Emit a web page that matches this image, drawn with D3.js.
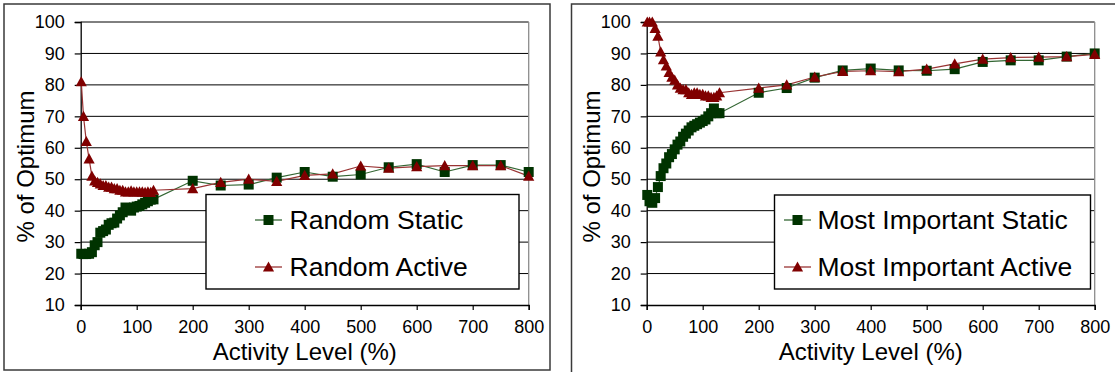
<!DOCTYPE html>
<html><head><meta charset="utf-8">
<script src="https://cdn.jsdelivr.net/npm/d3@7"></script>
<style>html,body{margin:0;padding:0;background:#fff;}svg{display:block;}</style>
</head><body>
<svg id="c" width="1115" height="372"></svg>
<script>
const activityLevels = [1,5,10,15,20,25,30,35,40,45,50,55,60,65,70,75,80,85,90,95,100,105,110,115,120,125,130,200,250,300,350,400,450,500,550,600,650,700,750,800];
const randomStatic = [26.3,26.2,26.2,26.3,26.8,29,30,33,33.5,34,35.5,36,36.2,37.5,38.5,39.5,41,40.5,40,41,41.3,41.5,42,42.5,43,43.5,43.6,49.5,48,48.3,50.5,52.3,50.8,51.5,53.8,54.8,52.3,54.5,54.5,52.3];
const randomActive = [81,70,62,56.5,51,49.5,49,48.5,48,48,47.5,47.5,47,47,46.5,46.5,46,46,46.3,46,46,46,46,45.8,46,45.8,46.5,47,49,50,49.3,51.2,51.7,54.2,53.5,54,54.3,54.3,54.3,51];
const mostImportantStatic = [45,43,42.5,44,47.5,51,53.5,55,57,58,59.5,61,62,63.5,64.5,65.5,66.5,67,67.5,68,68.5,69,70,71,72.5,71,71,77.5,79,82.3,84.6,85.2,84.6,84.5,85,87.3,87.8,87.8,89,90];
const mostImportantActive = [100,100,100,98,95.5,90.5,88,86,84,82.5,81.5,80,79,78.5,78.5,77.5,77,77.5,77.5,77,77,76.5,76.5,76,76,76.5,77.5,79,80,82.5,84.3,84.5,84.2,85,86.7,88.2,88.7,88.8,89,89.7];
const xTickValues = [0,100,200,300,400,500,600,700,800];
const yTickValues = [10,20,30,40,50,60,70,80,90,100];
const xAxisTitle = "Activity Level (%)";
const yAxisTitle = "% of Optimum";
const panelSeriesNames = [["Random Static","Random Active"],["Most Important Static","Most Important Active"]];
const panelSeriesValues = [[randomStatic, randomActive],[mostImportantStatic, mostImportantActive]];

const FONT = "'Liberation Sans', Arial, Helvetica, sans-serif";
const GREEN_LINE = "#336633", GREEN_MARK = "#003300";
const RED_LINE = "#993333", RED_MARK = "#800000";

const svg = d3.select("#c");

const panels = [
  {off:0, box:[4,4,546,366], legend:{x:206,y:194.5,w:313,h:94.5, lineX:[255,282], textX:289.5}},
  {off:566, box:[571.5,4,560,380], legend:{x:774.5,y:195,w:316,h:94, lineX:[784,811], textX:817.5}}
];

function triPath(){ return "M0,-5.6L5.6,4.6L-5.6,4.6Z"; }
function sqPath(){ return "M-5,-5H5V5H-5Z"; }

panels.forEach((p, pi) => {
  const g = svg.append("g");
  g.append("rect").attr("x",p.box[0]).attr("y",p.box[1]).attr("width",p.box[2]).attr("height",p.box[3])
    .attr("fill","none").attr("stroke","#3a3a3a").attr("stroke-width",1.5);

  const x = d3.scaleLinear().domain([0,800]).range([80.7+p.off, 528.7+p.off]);
  const y = d3.scaleLinear().domain([10,100]).range([305,22]);

  g.append("g").selectAll("line").data(yTickValues.filter(v=>v>10)).join("line")
    .attr("x1",x(0)).attr("x2",x(800)).attr("y1",d=>y(d)).attr("y2",d=>y(d))
    .attr("stroke","#000").attr("stroke-width",1);
  g.append("line").attr("x1",x(800)).attr("x2",x(800)).attr("y1",y(100)).attr("y2",y(10))
    .attr("stroke","#8c8c8c").attr("stroke-width",1.3);

  const yAxis = d3.axisLeft(y).tickValues(yTickValues).tickSize(6).tickPadding(10);
  const ya = g.append("g").attr("transform",`translate(${x(0)},0)`).call(yAxis);
  const xAxis = d3.axisBottom(x).tickValues(xTickValues).tickSize(5).tickPadding(10);
  const xa = g.append("g").attr("transform",`translate(0,${y(10)})`).call(xAxis);
  [ya,xa].forEach(a=>{
    a.select(".domain").attr("stroke","#000").attr("stroke-width",1.3);
    a.selectAll(".tick line").attr("stroke","#000").attr("stroke-width",1.2);
    a.selectAll(".tick text").attr("fill","#000").style("font-family",FONT).style("font-size","18px");
  });
  xa.selectAll(".tick text").attr("dy","0.71em").attr("y",15);

  g.append("text").attr("x",(x(0)+x(800))/2).attr("y",359.5).attr("text-anchor","middle")
    .style("font-family",FONT).style("font-size","24px").attr("fill","#000").text(xAxisTitle);
  g.append("text").attr("transform",`translate(${x(0)-46.5},166.5) rotate(-90)`).attr("text-anchor","middle")
    .style("font-family",FONT).style("font-size","24px").attr("fill","#000").text(yAxisTitle);

  const line = d3.line().x((d,i)=>x(activityLevels[i])).y(d=>y(d));
  const [sVals, aVals] = panelSeriesValues[pi];
  const series = [
    {vals:sVals, lc:GREEN_LINE, mc:GREEN_MARK, shape:sqPath},
    {vals:aVals, lc:RED_LINE, mc:RED_MARK, shape:triPath}
  ];
  series.forEach(s=>{
    g.append("path").attr("d",line(s.vals)).attr("fill","none").attr("stroke",s.lc).attr("stroke-width",1.2);
  });
  series.forEach(s=>{
    g.append("g").selectAll("path").data(s.vals).join("path")
      .attr("transform",(d,i)=>`translate(${x(activityLevels[i])},${y(d)})`)
      .attr("d",s.shape()).attr("fill",s.mc);
  });

  const L = p.legend;
  const lg = g.append("g");
  lg.append("rect").attr("x",L.x).attr("y",L.y).attr("width",L.w).attr("height",L.h)
    .attr("fill","#fff").attr("stroke","#000").attr("stroke-width",1.4);
  const rows = [220, 267];
  series.forEach((s,k)=>{
    lg.append("line").attr("x1",L.lineX[0]).attr("x2",L.lineX[1]).attr("y1",rows[k]).attr("y2",rows[k])
      .attr("stroke",s.lc).attr("stroke-width",1.3);
    lg.append("path").attr("transform",`translate(${(L.lineX[0]+L.lineX[1])/2},${rows[k]})`).attr("d",s.shape()).attr("fill",s.mc);
    lg.append("text").attr("x",L.textX).attr("y",rows[k]+9.3)
      .style("font-family",FONT).style("font-size","26.5px").attr("fill","#000").text(panelSeriesNames[pi][k]);
  });
});
</script>
</body></html>
